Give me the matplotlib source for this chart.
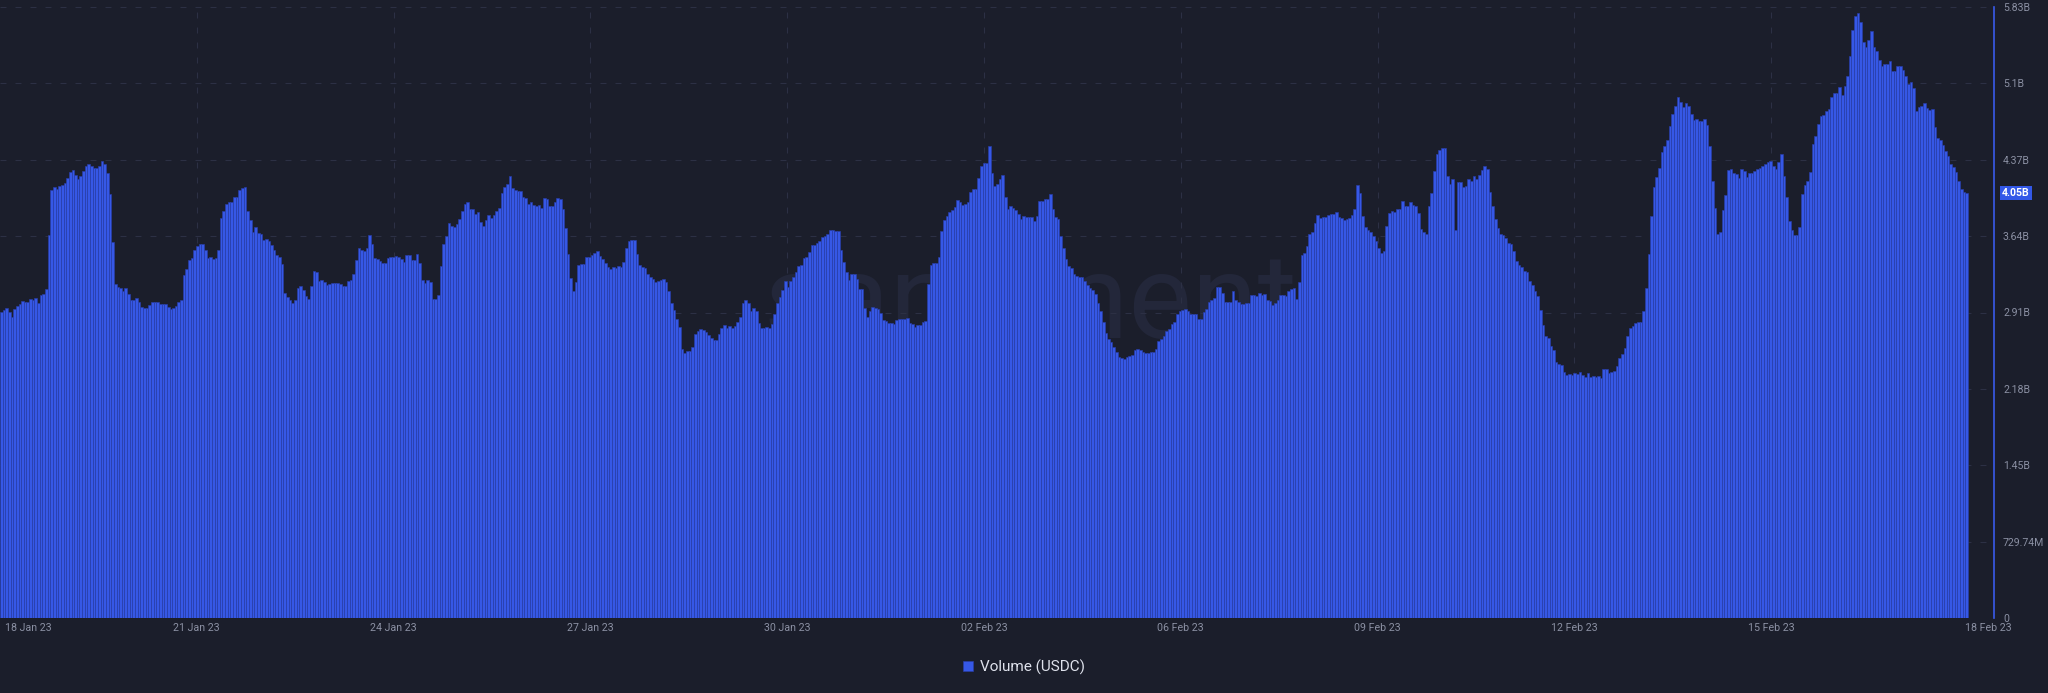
import numpy as np
import matplotlib
matplotlib.use("Agg")
import matplotlib.pyplot as plt
from matplotlib.transforms import ScaledTranslation, blended_transform_factory

plt.rcParams['font.family'] = ['Roboto', 'DejaVu Sans']
plt.rcParams['lines.scale_dashes'] = False

# ---- data: hourly USDC volume, billions ----
vol_seg1 = [
    2.92, 2.94, 2.96, 2.92, 2.88, 2.95, 2.98, 3.00, 3.03, 3.02,
    3.02, 3.05, 3.04, 3.06, 3.01, 3.09, 3.10, 3.14, 3.66, 4.09,
    4.12, 4.10, 4.13, 4.14, 4.16, 4.20, 4.26, 4.28, 4.23, 4.19,
    4.22, 4.27, 4.32, 4.34, 4.32, 4.30, 4.30, 4.32, 4.37, 4.34,
    4.25, 4.05, 3.59, 3.19, 3.16, 3.15, 3.12, 3.15, 3.10, 3.04,
    3.04, 3.06, 3.02, 2.97, 2.96, 2.96, 2.99, 3.02, 3.02, 3.02,
    3.00, 3.00, 3.00, 2.97, 2.95, 2.96, 2.98, 3.02, 3.04, 3.28,
    3.33, 3.42, 3.44, 3.52, 3.55, 3.57, 3.57, 3.52, 3.44, 3.45,
    3.43, 3.44, 3.52, 3.82, 3.89, 3.96, 3.97, 3.97, 4.02, 4.02,
    4.09, 4.11, 4.12, 3.89, 3.80, 3.69, 3.74, 3.68, 3.67, 3.61,
    3.62, 3.60, 3.56, 3.52, 3.47, 3.45, 3.38, 3.11, 3.07, 3.04,
    3.01, 3.04, 3.15, 3.17, 3.13, 3.08, 3.05, 3.17, 3.32, 3.31,
    3.22, 3.23, 3.21, 3.18, 3.19]
vol_seg2 = [
    3.20, 3.20, 3.20, 3.19, 3.17, 3.17, 3.22, 3.23, 3.29, 3.42,
    3.54, 3.52, 3.51, 3.54, 3.66, 3.57, 3.44, 3.43, 3.41, 3.39,
    3.39, 3.44, 3.45, 3.45, 3.46, 3.45, 3.43, 3.40, 3.47, 3.47,
    3.42, 3.42, 3.48, 3.39, 3.23, 3.20, 3.23, 3.21, 3.05, 3.05,
    3.09, 3.36, 3.57, 3.65, 3.77, 3.75, 3.74, 3.76, 3.81, 3.89,
    3.96, 3.97, 3.91, 3.91, 3.86, 3.88, 3.78, 3.75, 3.80, 3.85,
    3.82, 3.85, 3.89, 3.92, 4.06, 4.12, 4.15, 4.22, 4.11, 4.09,
    4.08, 4.08, 4.02, 4.01, 3.96, 3.97, 3.95, 3.94, 3.95, 3.92,
    4.01, 4.00, 3.94, 3.94, 3.97, 4.01, 4.00, 3.91, 3.73, 3.48,
    3.25, 3.12, 3.21, 3.37, 3.38, 3.38, 3.45, 3.45, 3.47, 3.49,
    3.51, 3.46, 3.43, 3.39, 3.35, 3.33, 3.35, 3.34, 3.36, 3.35,
    3.40, 3.54, 3.60, 3.61, 3.61, 3.48, 3.37, 3.35, 3.34,
    3.29, 3.26, 3.24, 3.21, 3.22, 3.23]
vol_seg3 = [
    3.24, 3.21, 3.12, 3.01, 2.94, 2.86, 2.78, 2.57, 2.53, 2.55,
    2.55, 2.59, 2.71, 2.74, 2.76, 2.75, 2.73, 2.70, 2.68, 2.66,
    2.66, 2.71, 2.77, 2.80, 2.77, 2.79, 2.77, 2.79, 2.83, 2.88,
    3.01, 3.04, 3.01, 2.93, 2.96, 2.93, 2.82, 2.77, 2.77, 2.78,
    2.77, 2.81, 2.90, 3.01, 3.07, 3.13, 3.22, 3.16, 3.22, 3.26,
    3.31, 3.36, 3.37, 3.44, 3.45, 3.50, 3.56, 3.56, 3.58, 3.60,
    3.64, 3.65, 3.67, 3.71, 3.71, 3.70, 3.70, 3.52, 3.40, 3.31,
    3.23, 3.29, 3.29, 3.24, 3.14, 3.14, 2.96, 2.88, 2.93, 2.97,
    2.96, 2.95, 2.91, 2.85, 2.84, 2.82, 2.82, 2.81, 2.85, 2.86,
    2.86, 2.86, 2.87, 2.82, 2.81, 2.78, 2.80, 2.80, 2.83, 2.84,
    3.19, 3.37, 3.39, 3.39, 3.45, 3.70, 3.80, 3.84, 3.88, 3.90,
    3.93, 3.99, 3.97, 3.95, 3.96, 3.97, 4.07, 4.10, 4.10, 4.20,
    4.32, 4.35, 4.35, 4.51, 4.25]
vol_seg4 = [
    4.13, 4.15, 4.19, 4.23, 4.02, 3.91, 3.94, 3.92, 3.90, 3.86,
    3.81, 3.84, 3.83, 3.83, 3.83, 3.79, 3.84, 3.98, 3.98, 4.00,
    4.00, 4.05, 3.91, 3.83, 3.81, 3.65, 3.54, 3.43, 3.36, 3.34,
    3.29, 3.27, 3.26, 3.26, 3.22, 3.18, 3.15, 3.13, 3.10, 3.01,
    2.93, 2.83, 2.72, 2.67, 2.64, 2.59, 2.54, 2.49, 2.48, 2.47,
    2.49, 2.50, 2.51, 2.56, 2.57, 2.56, 2.54, 2.53, 2.53, 2.54,
    2.54, 2.57, 2.65, 2.67, 2.69, 2.74, 2.76, 2.81, 2.83, 2.90,
    2.93, 2.94, 2.95, 2.93, 2.90, 2.90, 2.90, 2.86, 2.86, 2.92,
    2.95, 3.02, 3.04, 3.06, 3.16, 3.16, 3.11, 3.02, 3.02, 3.02,
    3.12, 3.04, 3.02, 3.00, 3.00, 3.01, 3.01, 3.09, 3.09, 3.08,
    3.11, 3.09, 3.10, 3.04, 3.03, 2.99, 3.01, 3.04, 3.09, 3.09,
    3.08, 3.12, 3.14, 3.15, 3.05, 3.21, 3.47, 3.49, 3.55, 3.67,
    3.69, 3.77, 3.85, 3.82]
vol_seg5 = [
    3.83, 3.83, 3.85, 3.86, 3.86, 3.88, 3.83, 3.82, 3.80, 3.81,
    3.82, 3.85, 3.91, 4.14, 4.06, 3.84, 3.74, 3.71, 3.69, 3.65,
    3.60, 3.54, 3.49, 3.51, 3.75, 3.87, 3.89, 3.88, 3.91, 3.91,
    3.98, 3.94, 3.94, 3.97, 3.95, 3.94, 3.87, 3.72, 3.69, 3.67,
    3.94, 4.06, 4.27, 4.43, 4.47, 4.49, 4.49, 4.22, 4.15, 4.19,
    3.71, 4.17, 4.17, 4.12, 4.13, 4.19, 4.18, 4.22, 4.19, 4.23,
    4.28, 4.32, 4.29, 4.07, 3.94, 3.81, 3.73, 3.67, 3.66, 3.63,
    3.58, 3.57, 3.51, 3.41, 3.37, 3.35, 3.32, 3.31, 3.22, 3.18,
    3.12, 3.08, 2.94, 2.80, 2.69, 2.68, 2.60, 2.56, 2.45, 2.43,
    2.42, 2.35, 2.32, 2.33, 2.32, 2.34, 2.33, 2.35, 2.32, 2.30,
    2.34, 2.30, 2.31, 2.30, 2.31, 2.29, 2.38, 2.38, 2.34, 2.35,
    2.36, 2.41, 2.48, 2.52, 2.58, 2.69, 2.77, 2.79, 2.82, 2.83,
    2.83, 2.93, 3.15, 3.48, 3.84]
vol_seg6 = [
    4.12, 4.21, 4.30, 4.45, 4.51, 4.57, 4.70, 4.82, 4.89, 4.98,
    4.93, 4.88, 4.92, 4.89, 4.82, 4.76, 4.77, 4.75, 4.75, 4.77,
    4.71, 4.51, 4.18, 3.92, 3.67, 3.69, 3.90, 4.04, 4.28, 4.29,
    4.25, 4.24, 4.20, 4.29, 4.27, 4.21, 4.25, 4.25, 4.27, 4.29,
    4.30, 4.32, 4.34, 4.36, 4.37, 4.32, 4.29, 4.36, 4.43, 4.22,
    4.02, 3.79, 3.71, 3.66, 3.66, 3.74, 4.05, 4.14, 4.18, 4.26,
    4.53, 4.61, 4.72, 4.80, 4.81, 4.84, 4.86, 4.98, 5.02, 5.02,
    5.07, 5.00, 5.08, 5.18, 5.37, 5.62, 5.75, 5.78, 5.69, 5.50,
    5.46, 5.52, 5.61, 5.46, 5.42, 5.33, 5.27, 5.29, 5.29, 5.32,
    5.23, 5.23, 5.27, 5.27, 5.24, 5.18, 5.10, 5.12, 5.06, 4.84,
    4.88, 4.89, 4.92, 4.87, 4.85, 4.86, 4.69, 4.59, 4.57, 4.52,
    4.46, 4.41, 4.34, 4.31, 4.26, 4.18, 4.10, 4.07, 4.06]

x_tick_labels = ['18 Jan 23', '21 Jan 23', '24 Jan 23', '27 Jan 23', '30 Jan 23',
                 '02 Feb 23', '06 Feb 23', '09 Feb 23', '12 Feb 23', '15 Feb 23',
                 '18 Feb 23']
y_tick_step = 0.72974  # billions
y_tick_labels = ['0', '729.74M', '1.45B', '2.18B', '2.91B', '3.64B', '4.37B',
                 '5.1B', '5.83B']
last_label = '4.05B'
series_name = 'Volume (USDC)'

volume = np.array(vol_seg1 + vol_seg2 + vol_seg3 + vol_seg4 + vol_seg5 + vol_seg6)
N = len(volume)

# ---- style ----
BG = '#1b1e2b'
BAR = '#3658e6'
BAR_EDGE = '#283ea8'
AXIS = '#3a5bea'
GRID = '#2c3044'
TXT = '#8b90a3'

W, H = 2048, 693
fig = plt.figure(figsize=(W / 100, H / 100), dpi=100, facecolor=BG)
ax_left, ax_right, ax_top, ax_bottom = 0, 1994, 7, 618
ax = fig.add_axes([ax_left / W, 1 - ax_bottom / H, (ax_right - ax_left) / W,
                   (ax_bottom - ax_top) / H])
ax.set_facecolor('none')

x = np.arange(N)
bars = ax.bar(x, volume, width=1.0, color=BAR, edgecolor=BAR_EDGE,
              linewidth=0.45, zorder=2, label=series_name)

bars_px = 1968
ax.set_xlim(-0.5, -0.5 + N * (ax_right - ax_left) / bars_px)
ax.set_ylim(0, y_tick_step * (len(y_tick_labels) - 1))

# y axis on the right
yt = np.arange(len(y_tick_labels)) * y_tick_step
ax.set_yticks(yt, y_tick_labels)
ax.yaxis.tick_right()
ax.tick_params(axis='y', length=0, pad=6.5, labelsize=7.6, labelcolor=TXT)

# x ticks: evenly spaced over the bar range
xt = -0.5 + np.linspace(0, N, len(x_tick_labels))
ax.set_xticks(xt, x_tick_labels)
ax.tick_params(axis='x', length=0, pad=3.5, labelsize=7.7, labelcolor=TXT)
lbls = ax.get_xticklabels()
lbls[0].set_ha('left')
lbls[0].set_transform(lbls[0].get_transform() + ScaledTranslation(5 / 100, 0, fig.dpi_scale_trans))
lbls[-1].set_ha('left')
lbls[-1].set_transform(lbls[-1].get_transform() + ScaledTranslation(-3 / 100, 0, fig.dpi_scale_trans))

# grid
dash = (0, (4.3, 6.5))
for v in yt[1:]:
    ax.axhline(v, color=GRID, lw=0.8, ls=dash, zorder=1)
for v in xt[1:-1]:
    ax.axvline(v, color=GRID, lw=0.8, ls=dash, zorder=1)

for s in ['top', 'left', 'bottom']:
    ax.spines[s].set_visible(False)
ax.spines['right'].set_color(AXIS)
ax.spines['right'].set_linewidth(1.2)

# watermark
ax.text(0.5166, 0.458, 'santiment', transform=ax.transAxes, ha='center',
        va='baseline', fontsize=86, fontweight='normal', color='#23273a', zorder=0.5)

# last value tag
ax.annotate(last_label, xy=(1, volume[-1]),
            xycoords=blended_transform_factory(ax.transAxes, ax.transData),
            xytext=(5.8, 0), textcoords='offset points', ha='left', va='center',
            fontsize=7.6, fontweight='bold', color='white',
            bbox=dict(boxstyle='square,pad=0.22', fc='#3358e8', ec='none'),
            annotation_clip=False)

# legend
fig.legend(handles=[bars], labels=[series_name], loc='center',
           bbox_to_anchor=(0.5, 1 - 667 / H), frameon=False, fontsize=11,
           labelcolor='#dfe2ec', handlelength=0.65, handleheight=0.65,
           handletextpad=0.4)

fig.savefig('out.png', dpi=100, facecolor=BG)
